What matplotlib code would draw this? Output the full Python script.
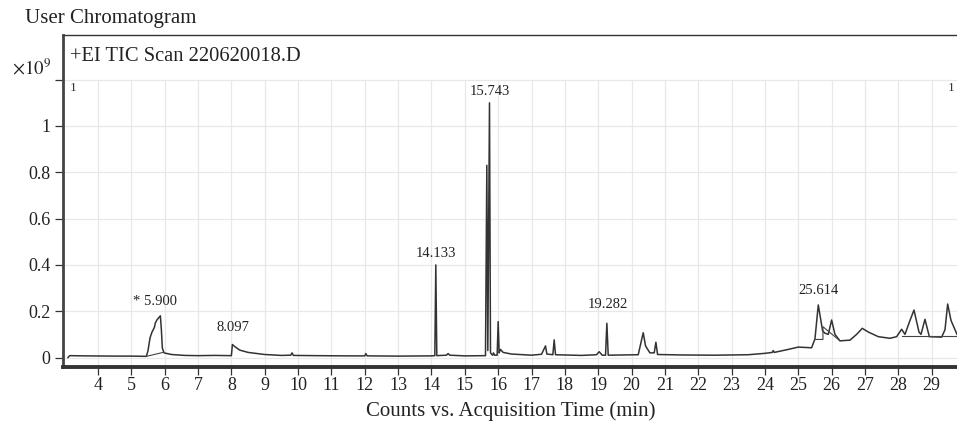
import numpy as np
import matplotlib
matplotlib.use("Agg")
import matplotlib.pyplot as plt

plt.rcParams["font.family"] = ["Liberation Serif", "DejaVu Serif"]
plt.rcParams["mathtext.fontset"] = "stix"

# TIC trace (time in min, counts x1e9)
trace_t = [3.1, 3.15, 3.6, 4.5, 5.0, 5.45, 5.5, 5.56, 5.62, 5.69, 5.72, 5.77, 5.87, 5.9, 5.93,
           5.98, 6.2, 6.6, 7.0, 7.5, 8.0, 8.03, 8.12, 8.25, 8.5, 9.0, 9.5, 9.78, 9.82, 9.86,
           10.5, 11.5, 12.0, 12.03, 12.07, 13.0, 14.0, 14.1, 14.13, 14.16, 14.45, 14.5, 14.55,
           15.0, 15.62, 15.66, 15.69, 15.74, 15.77, 15.83, 15.86, 15.89, 15.97, 16.0, 16.03,
           16.07, 16.15, 16.4, 17.0, 17.3, 17.42, 17.46, 17.64, 17.68, 17.72, 18.5, 18.95,
           19.03, 19.12, 19.22, 19.26, 19.3, 20.2, 20.35, 20.42, 20.55, 20.68, 20.73, 20.78,
           21.5, 22.5, 23.5, 24.0, 24.22, 24.25, 24.28, 24.7, 25.0, 25.4, 25.5, 25.6, 25.73,
           25.8, 25.9, 26.0, 26.1, 26.25, 26.55, 26.75, 26.92, 27.1, 27.4, 27.75, 27.95, 28.1,
           28.2, 28.35, 28.47, 28.62, 28.68, 28.8, 28.93, 29.3, 29.4, 29.48, 29.58, 29.7, 29.76]
trace_v = [0.0, 0.008, 0.007, 0.006, 0.006, 0.005, 0.03, 0.085, 0.11, 0.13, 0.15, 0.163, 0.18, 0.12, 0.04,
           0.02, 0.013, 0.009, 0.008, 0.009, 0.008, 0.056, 0.045, 0.032, 0.022, 0.013, 0.009, 0.01, 0.02, 0.009,
           0.008, 0.007, 0.007, 0.017, 0.007, 0.006, 0.007, 0.008, 0.40, 0.008, 0.01, 0.017, 0.01,
           0.007, 0.008, 0.83, 0.03, 1.10, 0.02, 0.01, 0.02, 0.01, 0.01, 0.155, 0.02,
           0.035, 0.022, 0.015, 0.01, 0.014, 0.05, 0.015, 0.012, 0.076, 0.012, 0.009, 0.012,
           0.025, 0.01, 0.01, 0.148, 0.01, 0.012, 0.107, 0.05, 0.02, 0.02, 0.066, 0.013,
           0.011, 0.01, 0.012, 0.018, 0.022, 0.03, 0.022, 0.035, 0.045, 0.042, 0.08, 0.227, 0.115,
           0.105, 0.1, 0.162, 0.1, 0.072, 0.075, 0.1, 0.126, 0.11, 0.09, 0.083, 0.09, 0.122,
           0.1, 0.16, 0.205, 0.11, 0.1, 0.165, 0.09, 0.088, 0.12, 0.231, 0.16, 0.12, 0.10]

# integration baselines drawn by the software
base1_t = [5.45, 5.95]
base1_v = [0.005, 0.022]
base2_t = [25.5, 25.74, 25.74, 26.25]
base2_v = [0.078, 0.078, 0.133, 0.072]
base3_t = [28.1, 29.76]
base3_v = [0.093, 0.093]

# labelled peaks: text, x, y of label
peak_labels = ["* 5.900", "8.097", "14.133", "15.743", "19.282", "25.614"]
peak_x = [5.71, 8.05, 14.13, 15.75, 19.29, 25.6]
peak_y = [0.24, 0.128, 0.45, 1.15, 0.227, 0.29]

x_ticks = list(range(4, 30))
y_ticks = [0, 0.2, 0.4, 0.6, 0.8, 1.0, 1.2]
y_ticklabels = ["0", "0.2", "0.4", "0.6", "0.8", "1", ""]

fig = plt.figure(figsize=(9.57, 4.28), dpi=100)
ax = fig.add_axes([63 / 957, 1 - 367 / 428, 894 / 957, 332 / 428])
ax.set_xlim(2.95, 29.76)
ax.set_ylim(-0.041, 1.393)

# grid only below the header strip
for t in x_ticks:
    ax.plot([t, t], [-0.041, 1.2], color="#e8e8e8", lw=0.9, zorder=0)
for v in y_ticks:
    ax.plot([2.95, 29.76], [v, v], color="#e8e8e8", lw=0.9, zorder=0)

ax.plot(trace_t, trace_v, color="#333333", lw=1.1)
ax.plot(base1_t, base1_v, color="#444444", lw=0.8)
ax.plot(base2_t, base2_v, color="#444444", lw=0.8)
ax.plot(base3_t, base3_v, color="#444444", lw=0.8)

for lab, px, py in zip(peak_labels, peak_x, peak_y):
    ax.text(px, py, lab, ha="center", va="center", fontsize=10.5, color="#222222")

ax.text(0.008, 0.934, "+EI TIC Scan 220620018.D", transform=ax.transAxes,
        ha="left", va="center", fontsize=14.8, color="#222222")
ax.text(0.008, 0.84, "1", transform=ax.transAxes, ha="left", va="center", fontsize=9.5, color="#333333")
ax.text(0.997, 0.84, "1", transform=ax.transAxes, ha="right", va="center", fontsize=9.5, color="#333333")

ax.set_xticks(x_ticks)
ax.set_xticklabels([str(t) for t in x_ticks])
ax.set_yticks(y_ticks)
ax.set_yticklabels(y_ticklabels)
ax.tick_params(axis="both", direction="out", length=6, width=0.9, colors="#333333",
               labelsize=13, labelcolor="#222222")
ax.tick_params(axis="x", pad=1)
ax.tick_params(axis="y", pad=3)

ax.spines["right"].set_visible(False)
ax.spines["top"].set_linewidth(1.0)
ax.spines["top"].set_color("#333333")
ax.spines["left"].set_linewidth(2.0)
ax.spines["left"].set_color("#444444")
ax.spines["bottom"].set_linewidth(2.8)
ax.spines["bottom"].set_color("#333333")

fig.text(25 / 957, 1 - 18 / 428, "User Chromatogram", ha="left", va="center",
         fontsize=15, color="#222222")
fig.text(12 / 957, 1 - 68 / 428, r"$\times10^{9}$", ha="left", va="center",
         fontsize=13.5, color="#222222")
fig.text(511 / 957, 1 - 411 / 428, "Counts vs. Acquisition Time (min)", ha="center",
         va="center", fontsize=15, color="#222222")

fig.savefig("out.png", dpi=100)
